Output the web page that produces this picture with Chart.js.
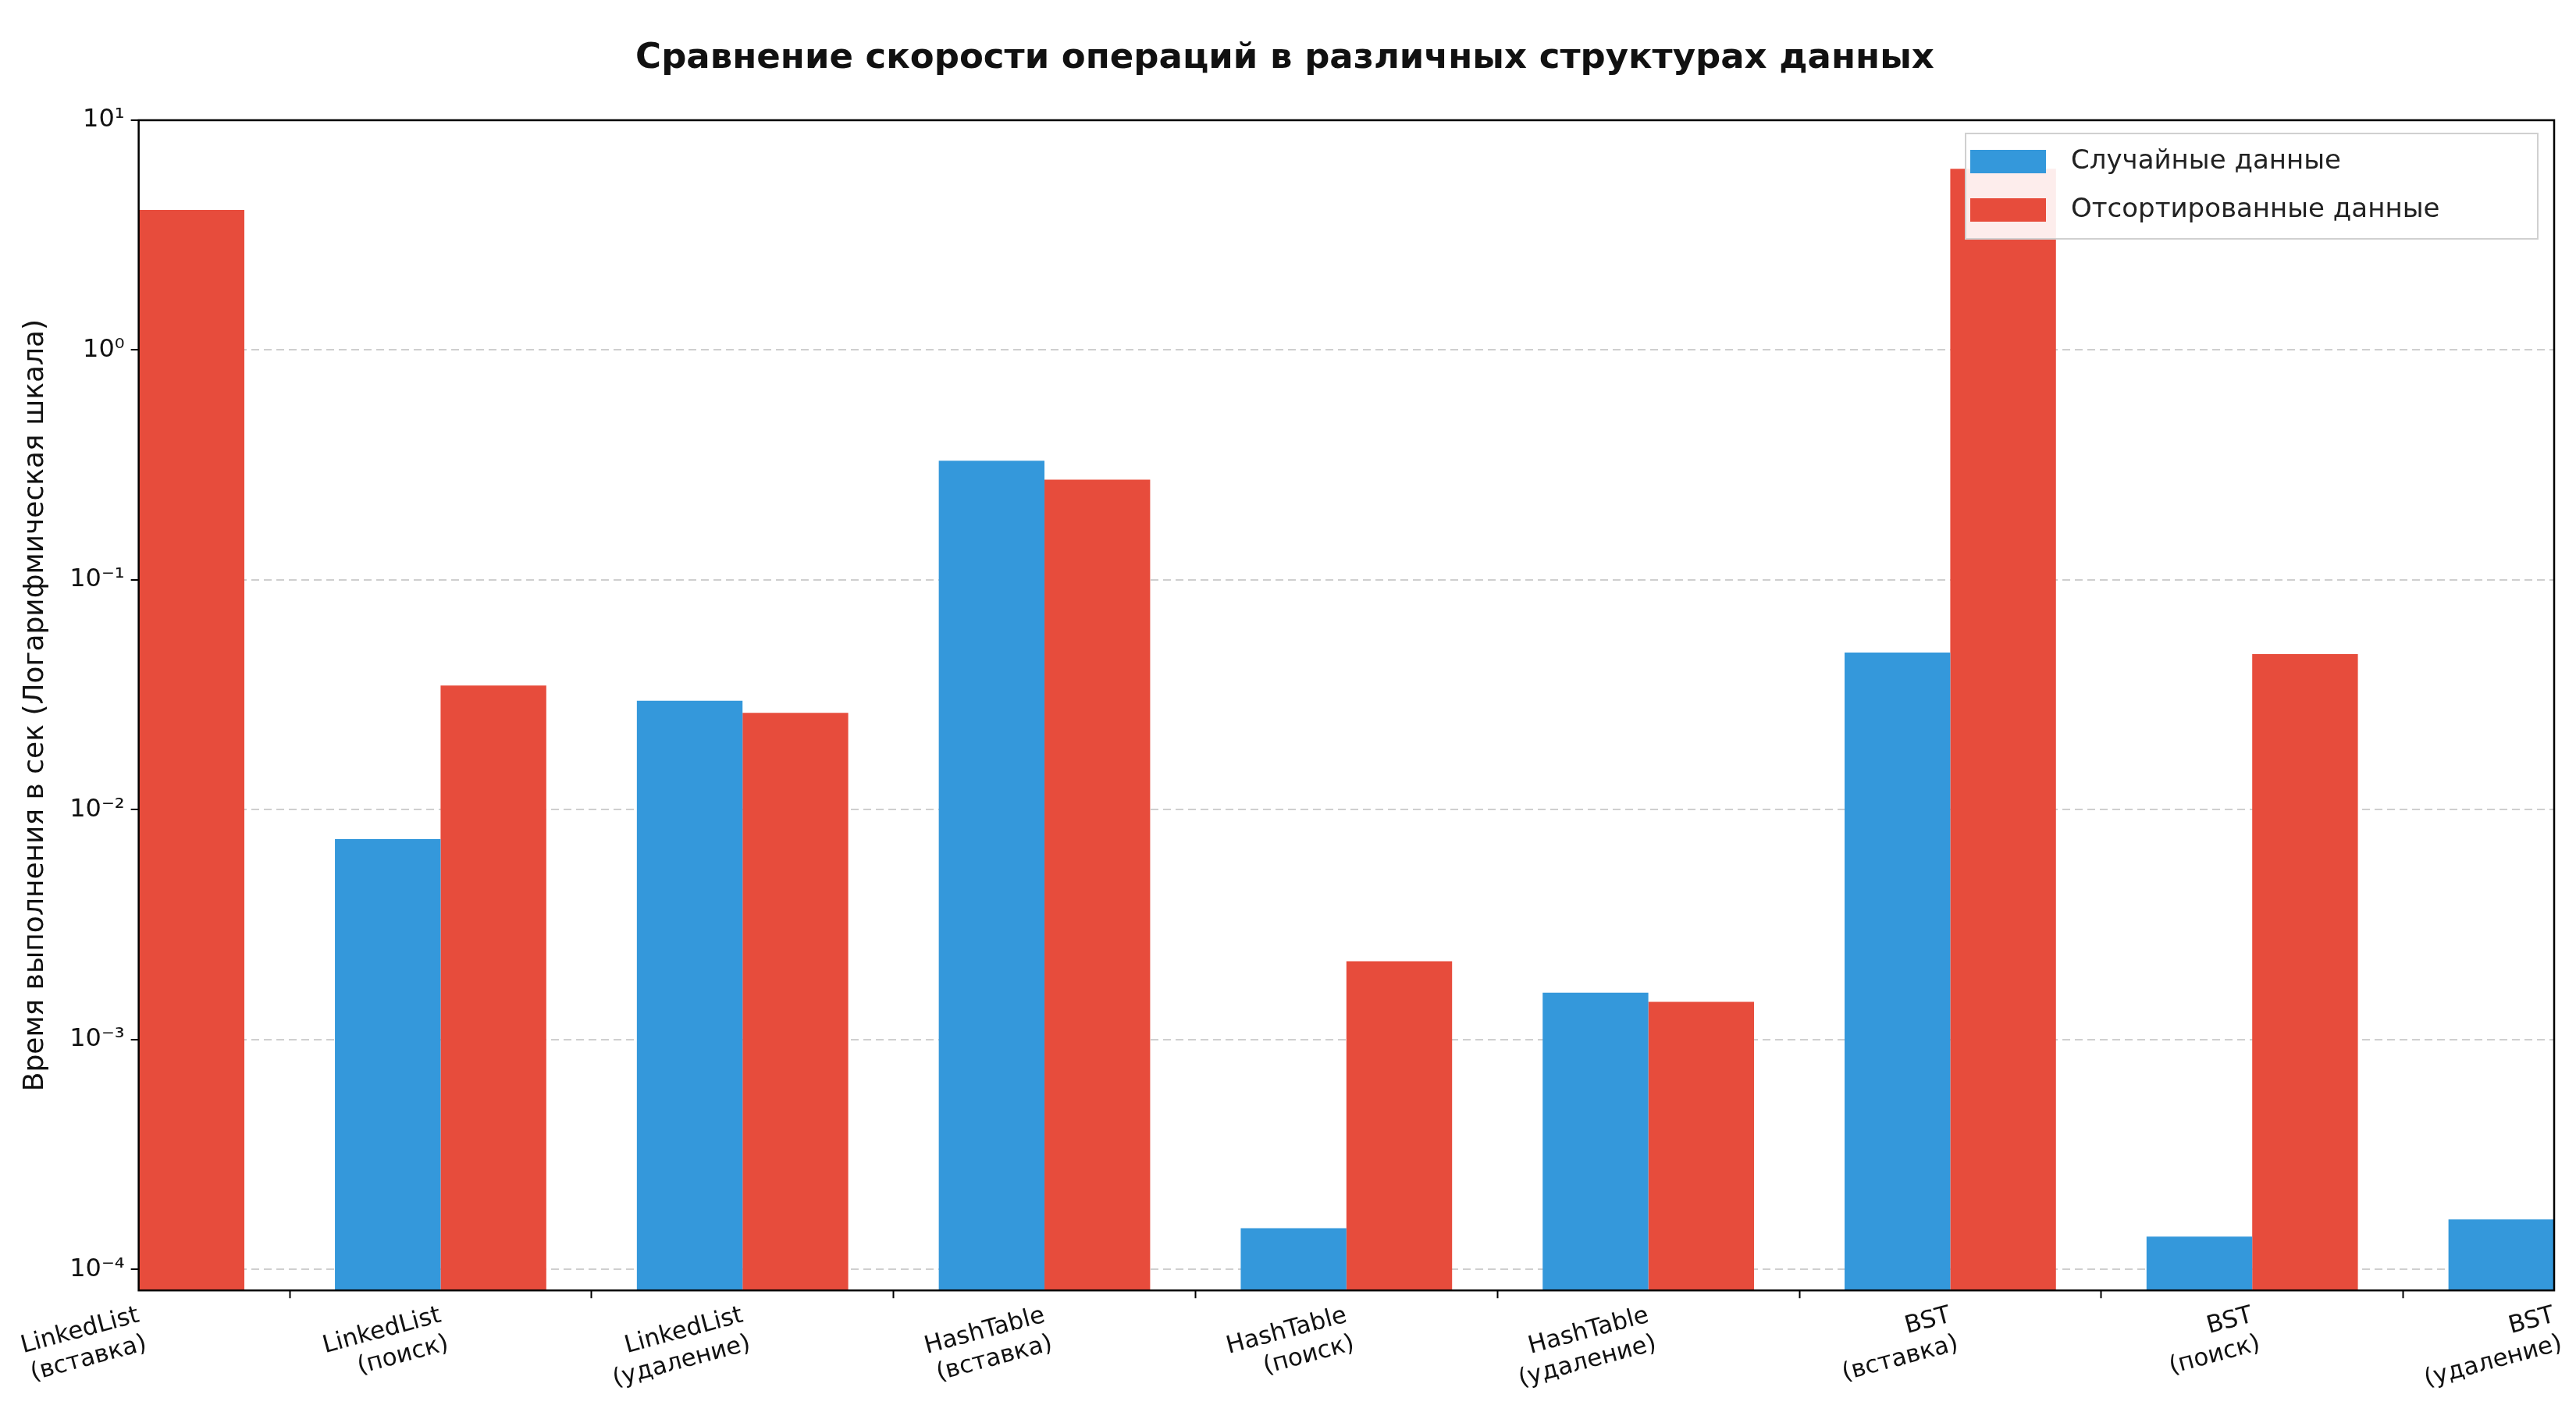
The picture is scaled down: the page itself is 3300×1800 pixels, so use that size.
<!DOCTYPE html>
<html lang="ru">
<head>
<meta charset="UTF-8" />
<title>Сравнение скорости операций</title>
<script src="https://cdn.jsdelivr.net/npm/chart.js@4.4.1/dist/chart.umd.min.js"></script>
<style>
  body { margin: 0; background: #fff; }
</style>
</head>
<body>
<canvas id="chart" width="3300" height="1800"></canvas>
<script>
  const labels = [
    ['LinkedList', '(вставка)'], ['LinkedList', '(поиск)'], ['LinkedList', '(удаление)'],
    ['HashTable', '(вставка)'], ['HashTable', '(поиск)'], ['HashTable', '(удаление)'],
    ['BST', '(вставка)'], ['BST', '(поиск)'], ['BST', '(удаление)']
  ];
  const randomData = [4.67, 0.00745, 0.0298, 0.33, 0.000151, 0.0016, 0.0483, 0.000139, 0.000165];
  const sortedData = [4.07, 0.0347, 0.0264, 0.273, 0.00219, 0.00146, 6.15, 0.0475, 0.0292];
  const yTicks = [1e-4, 1e-3, 1e-2, 1e-1, 1, 10];

  const sup = { '-': '⁻', '0': '⁰', '1': '¹', '2': '²', '3': '³', '4': '⁴' };
  function powLabel(v) {
    const e = String(Math.round(Math.log10(v)));
    return '10' + e.split('').map(c => sup[c]).join('');
  }

  const F = 'DejaVu Sans';

  // рамка и легенда внутри области графика
  const extras = {
    id: 'extras',
    afterDraw(chart) {
      const ctx = chart.ctx, a = chart.chartArea;
      ctx.save();
      ctx.strokeStyle = '#000';
      ctx.lineWidth = 2.5;
      ctx.strokeRect(a.left, a.top, a.right - a.left, a.bottom - a.top);
      // легенда
      const x0 = 2518, y0 = 171, w = 733, h = 135;
      ctx.fillStyle = 'rgba(255,255,255,0.9)';
      ctx.strokeStyle = '#d0d0d0';
      ctx.lineWidth = 2;
      ctx.fillRect(x0, y0, w, h);
      ctx.strokeRect(x0, y0, w, h);
      ctx.font = '34px "' + F + '"';
      ctx.textBaseline = 'middle';
      chart.data.datasets.forEach((ds, i) => {
        const cy = y0 + 36 + i * 62;
        ctx.fillStyle = ds.backgroundColor;
        ctx.fillRect(x0 + 6, cy - 15, 97, 30);
        ctx.fillStyle = '#222';
        ctx.fillText(ds.label, x0 + 135, cy);
      });
      ctx.restore();
    }
  };

  new Chart(document.getElementById('chart'), {
    type: 'bar',
    data: {
      labels: labels,
      datasets: [
        { label: 'Случайные данные', data: randomData, backgroundColor: '#3498db' },
        { label: 'Отсортированные данные', data: sortedData, backgroundColor: '#e74c3c' }
      ]
    },
    options: {
      responsive: false,
      devicePixelRatio: 1,
      animation: false,
      categoryPercentage: 0.7,
      barPercentage: 1,
      layout: { padding: { left: 20, right: 28, top: 10, bottom: 10 } },
      plugins: {
        legend: { display: false },
        tooltip: { enabled: false },
        title: {
          display: true,
          text: 'Сравнение скорости операций в различных структурах данных',
          color: '#111',
          font: { family: F, size: 45, weight: 'bold' },
          padding: { top: 38, bottom: 52 }
        }
      },
      scales: {
        x: {
          type: 'category',
          offset: false,
          afterBuildTicks(s) { s.min = -0.79; s.max = 8.79; },
          grid: { display: true, drawOnChartArea: false, color: '#000', tickLength: 10, tickWidth: 2 },
          border: { display: false },
          ticks: {
            color: '#111', minRotation: 15, maxRotation: 15, padding: 4,
            font: { family: F, size: 31 }
          }
        },
        y: {
          type: 'logarithmic',
          min: 8.1e-5,
          max: 10,
          afterBuildTicks(s) { s.ticks = yTicks.map(v => ({ value: v })); },
          grid: {
            color: '#cfcfcf', lineWidth: 2, tickLength: 10,
            tickColor: '#000'
          },
          border: { display: false, dash: [10, 6] },
          ticks: {
            color: '#111', padding: 8,
            font: { family: F, size: 32 },
            callback: v => powLabel(v)
          },
          title: {
            display: true,
            text: 'Время выполнения в сек (Логарифмическая шкала)',
            color: '#111',
            font: { family: F, size: 36 },
            padding: { bottom: 14 }
          }
        }
      }
    },
    plugins: [extras]
  });
</script>
</body>
</html>
